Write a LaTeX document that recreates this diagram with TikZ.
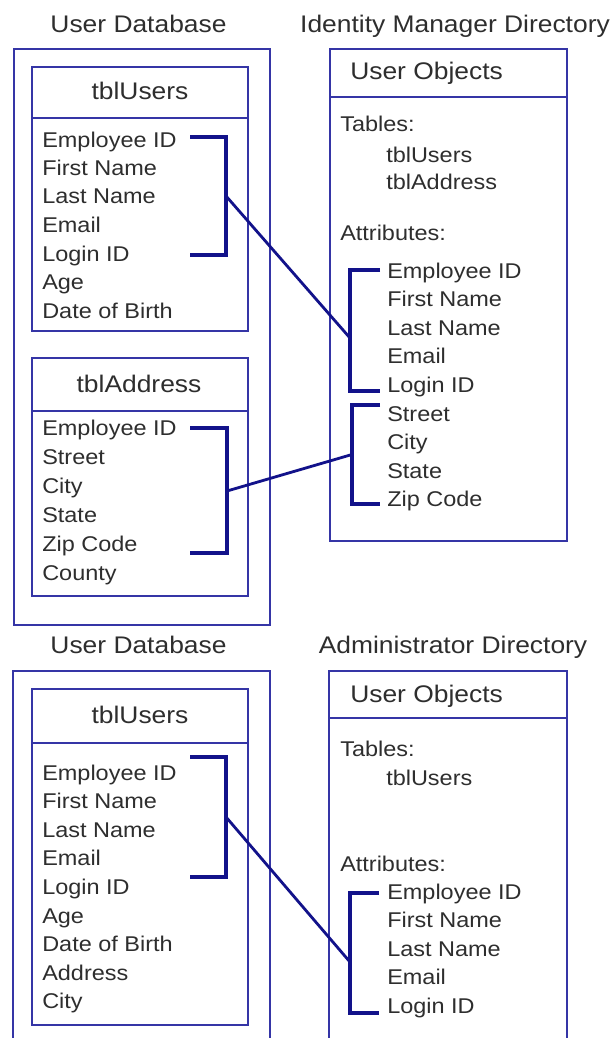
\documentclass[tikz,border=0pt]{standalone}
\usepackage{fontspec}
\setmainfont[FakeStretch=1.1]{Liberation Sans}
\definecolor{boxblue}{HTML}{3535A6}
\definecolor{brkblue}{HTML}{12128A}
\definecolor{txt}{HTML}{2E2E2E}
\tikzset{
  tbox/.style={draw=boxblue, line width=1.8pt},
  brk/.style={draw=brkblue, line width=2.5pt, line join=miter},
  link/.style={draw=brkblue, line width=2.1pt},
  row/.style={anchor=base west, inner sep=0pt, text=txt, font=\fontsize{16}{19}\selectfont},
  ttl/.style={anchor=base, inner sep=0pt, text=txt, font=\fontsize{18}{21}\selectfont},
  ttlw/.style={anchor=base west, inner sep=0pt, text=txt, font=\fontsize{18}{21}\selectfont},
}
\begin{document}
\begin{tikzpicture}[x=0.75pt,y=-0.75pt]
\useasboundingbox (0,0) rectangle (613,1038);
\clip (0,0) rectangle (613,1038);
\fill[white] (0,0) rectangle (613,1038);

% ---------------- top section ----------------
\node[ttl] (t1) at (138.5,33) {User Database};
\node[ttl] (t2) at (455,33) {Identity Manager Directory};

\draw[tbox] (14,49) rectangle (270,625);
% tblUsers
\draw[tbox] (32,67) rectangle (248,331);
\draw[tbox] (32,118) -- (248,118);
\node[ttl] (h1) at (140,100) {tblUsers};
\foreach \t [count=\i from 0] in {Employee ID,First Name,Last Name,Email,Login ID,Age,Date of Birth}
  \node[row] (u\i) at (42,147+28.5*\i) {\t};
% tblAddress
\draw[tbox] (32,358) rectangle (248,596);
\draw[tbox] (32,411) -- (248,411);
\node[ttl] (h2) at (139,392) {tblAddress};
\foreach \t [count=\i from 0] in {Employee ID,Street,City,State,Zip Code,County}
  \node[row] (r\i) at (42,435+29*\i) {\t};

% User Objects (top)
\draw[tbox] (330,49) rectangle (567,541);
\draw[tbox] (330,97) -- (567,97);
\node[ttlw] (o1) at (350,80) {User Objects};
\node[row] (tb1) at (340,132) {Tables:};
\node[row] (tb2) at (386,163) {tblUsers};
\node[row] (tb3) at (386,190) {tblAddress};
\node[row] (at1) at (340,240) {Attributes:};
\foreach \t [count=\i from 0] in {Employee ID,First Name,Last Name,Email,Login ID,Street,City,State,Zip Code}
  \node[row] (s\i) at (387,278+28.6*\i) {\t};

% brackets and links (top)
\coordinate (a1) at (190,137); \coordinate (a2) at (226,137);
\coordinate (a3) at (226,255); \coordinate (a4) at (190,255);
\coordinate (am) at (226,196);
\draw[brk] (a1) -- (a2) -- (a3) -- (a4);
\coordinate (b1) at (380,270); \coordinate (b2) at (350,270);
\coordinate (b3) at (350,391); \coordinate (b4) at (380,391);
\coordinate (bm) at (350,338);
\draw[brk] (b1) -- (b2) -- (b3) -- (b4);
\draw[link] (am) -- (bm);

\coordinate (c1) at (190,428); \coordinate (c2) at (227,428);
\coordinate (c3) at (227,553); \coordinate (c4) at (190,553);
\coordinate (cm) at (227,491);
\draw[brk] (c1) -- (c2) -- (c3) -- (c4);
\coordinate (d1) at (380,405); \coordinate (d2) at (352,405);
\coordinate (d3) at (352,504); \coordinate (d4) at (380,504);
\coordinate (dm) at (352,454.5);
\draw[brk] (d1) -- (d2) -- (d3) -- (d4);
\draw[link] (cm) -- (dm);

% ---------------- bottom section ----------------
\node[ttl] (t3) at (138.5,653) {User Database};
\node[ttl] (t4) at (453,653) {Administrator Directory};

\draw[tbox] (13,1045) -- (13,671) -- (270,671) -- (270,1045);
\draw[tbox] (32,689) rectangle (248,1025);
\draw[tbox] (32,743) -- (248,743);
\node[ttl] (h3) at (140,723) {tblUsers};
\foreach \t [count=\i from 0] in {Employee ID,First Name,Last Name,Email,Login ID,Age,Date of Birth,Address,City}
  \node[row] (v\i) at (42,780+28.6*\i) {\t};

\draw[tbox] (329,1045) -- (329,671) -- (567,671) -- (567,1045);
\draw[tbox] (329,718) -- (567,718);
\node[ttlw] (o2) at (350,702) {User Objects};
\node[row] (tb4) at (340,756) {Tables:};
\node[row] (tb5) at (386,785) {tblUsers};
\node[row] (at2) at (340,871) {Attributes:};
\foreach \t [count=\i from 0] in {Employee ID,First Name,Last Name,Email,Login ID}
  \node[row] (w\i) at (387,899+28.6*\i) {\t};

\coordinate (e1) at (190,757); \coordinate (e2) at (226,757);
\coordinate (e3) at (226,877); \coordinate (e4) at (190,877);
\coordinate (em) at (226,817);
\draw[brk] (e1) -- (e2) -- (e3) -- (e4);
\coordinate (f1) at (379,893); \coordinate (f2) at (350,893);
\coordinate (f3) at (350,1013); \coordinate (f4) at (379,1013);
\coordinate (fm) at (350,962);
\draw[brk] (f1) -- (f2) -- (f3) -- (f4);
\draw[link] (em) -- (fm);
\end{tikzpicture}
\end{document}
